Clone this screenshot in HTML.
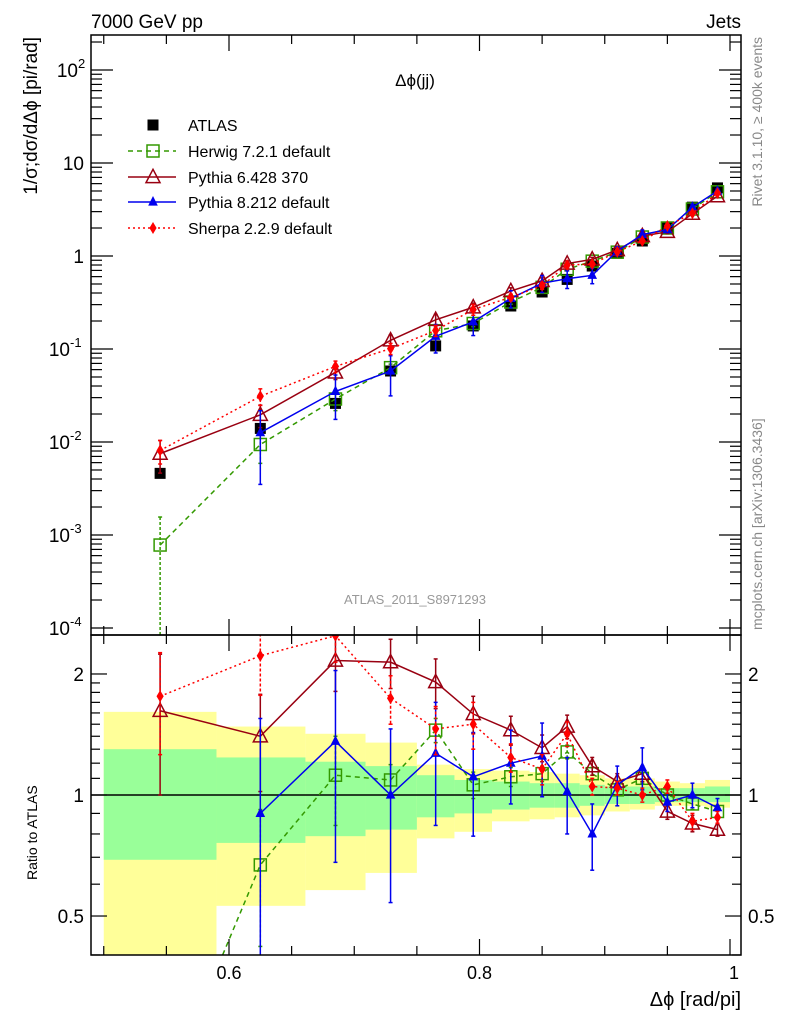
<!DOCTYPE html>
<html><head><meta charset="utf-8"><style>
html,body{margin:0;padding:0;background:#fff;width:786px;height:1024px;overflow:hidden;}
svg{display:block;font-family:"Liberation Sans",sans-serif;}
</style></head><body>
<svg id="c" width="786" height="1024" viewBox="0 0 786 1024" xmlns="http://www.w3.org/2000/svg">
<defs>
<clipPath id="cm"><rect x="91" y="35" width="650" height="600"/></clipPath>
<clipPath id="cr"><rect x="91" y="635" width="650" height="320"/></clipPath>
</defs>
<g id="ratioBands" clip-path="url(#cr)"></g>
<g id="mainG" clip-path="url(#cm)"></g>
<g id="ratioG" clip-path="url(#cr)"></g>
<g id="axes"></g>
<text x="91" y="28" font-size="19">7000 GeV pp</text>
<text x="741" y="28" font-size="19" text-anchor="end">Jets</text>
<text x="415" y="86" font-size="17" text-anchor="middle">Δϕ(jj)</text>
<text x="415" y="604" font-size="13" fill="#999" text-anchor="middle">ATLAS_2011_S8971293</text>
<text transform="translate(37,37) rotate(-90)" font-size="19" text-anchor="end">1/σ;dσ/dΔϕ [pi/rad]</text>
<text transform="translate(37,880) rotate(-90)" font-size="14">Ratio to ATLAS</text>
<text x="741" y="1006" font-size="20" text-anchor="end">Δϕ [rad/pi]</text>
<text transform="translate(762,37) rotate(-90)" font-size="14" fill="#888" text-anchor="end">Rivet 3.1.10, ≥ 400k events</text>
<text transform="translate(762,630) rotate(-90)" font-size="14" fill="#888">mcplots.cern.ch [arXiv:1306.3436]</text>
<g id="legend"></g>
</svg>
<script>
const xCenters=[0.545,0.625,0.685,0.729,0.765,0.795,0.825,0.85,0.87,0.89,0.91,0.93,0.95,0.97,0.99];
const binEdges=[0.5,0.59,0.661,0.709,0.75,0.78,0.81,0.84,0.86,0.88,0.90,0.92,0.94,0.96,0.98,1.0];
const atlas=[0.0046,0.014,0.026,0.058,0.108,0.177,0.29,0.41,0.56,0.78,1.07,1.45,2.0,3.35,5.4];
const atlasErr=[0.0004,0.0012,0.002,0.004,0.007,0.01,0.015,0.02,0.03,0.04,0.05,0.07,0.1,0.15,0.25];
const herwig=[0.00078,0.0094,0.029,0.063,0.157,0.188,0.32,0.46,0.72,0.88,1.10,1.60,2.0,3.2,4.9];
const pythia6=[0.0075,0.0196,0.056,0.124,0.206,0.281,0.42,0.54,0.83,0.92,1.16,1.64,1.82,2.85,4.4];
const pythia8=[null,0.0126,0.035,0.058,0.137,0.196,0.35,0.51,0.57,0.62,1.13,1.70,1.92,3.35,5.0];
const sherpa=[0.0081,0.031,0.065,0.101,0.158,0.266,0.36,0.48,0.80,0.82,1.11,1.45,2.1,2.88,4.75];
const herwigR=[0.17,0.67,1.12,1.09,1.45,1.06,1.11,1.13,1.28,1.13,1.03,1.10,1.0,0.95,0.91];
const pythia6R=[1.62,1.40,2.16,2.14,1.91,1.59,1.45,1.31,1.48,1.18,1.08,1.13,0.91,0.85,0.82];
const pythia8R=[null,0.90,1.36,1.0,1.27,1.11,1.20,1.25,1.02,0.80,1.06,1.17,0.96,1.0,0.93];
const sherpaR=[1.76,2.22,2.49,1.74,1.46,1.50,1.24,1.16,1.42,1.05,1.04,1.0,1.05,0.86,0.88];
const herwigErr=[0.17,0.25,0.28,0.1,0.1,0.08,0.06,0.05,0.05,0.04,0.03,0.03,0.03,0.03,0.03];
const pythia6Err=[0.62,0.38,0.35,0.3,0.27,0.17,0.12,0.1,0.1,0.06,0.05,0.05,0.04,0.04,0.03];
const pythia8Err=[0,0.65,0.68,0.46,0.43,0.32,0.25,0.26,0.22,0.15,0.12,0.14,0.05,0.07,0.05];
const sherpaErr=[0.5,0.45,0.35,0.24,0.2,0.2,0.1,0.1,0.1,0.05,0.04,0.04,0.04,0.04,0.03];
const greenHi=[1.30,1.24,1.21,1.18,1.12,1.09,1.08,1.07,1.07,1.06,1.05,1.05,1.04,1.04,1.05];
const greenLo=[0.69,0.76,0.79,0.82,0.88,0.90,0.92,0.93,0.93,0.94,0.95,0.95,0.96,0.96,0.96];
const yellowHi=[1.61,1.48,1.42,1.35,1.19,1.16,1.15,1.14,1.13,1.12,1.10,1.10,1.08,1.07,1.09];
const yellowLo=[0.30,0.53,0.58,0.64,0.78,0.81,0.86,0.87,0.88,0.89,0.91,0.92,0.94,0.94,0.93];
const mainTickExp=["-4","-3","-2","-1","","",  "2"];
const mainTickBase=["10","10","10","10","1","10","10"];
const ratioTicks=[0.5,1,2];
const xTicks=[0.6,0.8,1];

const NS="http://www.w3.org/2000/svg";
const X0=91,X1=741,MT=35,MB=635,RT=635,RB=955;
function xs(v){return 229+(v-0.6)*1252.5;}
function ym(v){return 256-Math.log10(v)*93;}
function yr(v){return 795-Math.log10(v)*402;}
function mk(tag,attrs,parent){const e=document.createElementNS(NS,tag);for(const k in attrs)e.setAttribute(k,attrs[k]);parent.appendChild(e);return e;}
const mainG=document.getElementById('mainG'),ratioG=document.getElementById('ratioG'),bandG=document.getElementById('ratioBands'),axes=document.getElementById('axes'),leg=document.getElementById('legend');

for(let i=0;i<xCenters.length;i++){
  const xa=xs(binEdges[i]),xb=xs(binEdges[i+1]);
  let r=mk('rect',{x:xa,y:yr(yellowHi[i]),width:xb-xa,height:yr(yellowLo[i])-yr(yellowHi[i]),fill:'#ffff99'},bandG);
  
  
}
for(let i=0;i<xCenters.length;i++){
  const xa=xs(binEdges[i]),xb=xs(binEdges[i+1]);
  let r=mk('rect',{x:xa,y:yr(greenHi[i]),width:xb-xa,height:yr(greenLo[i])-yr(greenHi[i]),fill:'#99ff99'},bandG);
  
  
}
let l1=mk('line',{x1:X0,x2:X1,y1:yr(1),y2:yr(1),stroke:'#000','stroke-width':1.5},ratioG);



function marker(g,type,x,y,col,s){
  let e;
  if(type==='sq') e=mk('rect',{x:x-s,y:y-s,width:2*s,height:2*s,fill:col},g);
  else if(type==='osq') e=mk('rect',{x:x-s,y:y-s,width:2*s,height:2*s,fill:'none',stroke:col,'stroke-width':1.5},g);
  else if(type==='otri') e=mk('path',{d:`M${x},${y-s*1.1}L${x+s},${y+s*0.8}L${x-s},${y+s*0.8}Z`,fill:'none',stroke:col,'stroke-width':1.5},g);
  else if(type==='tri') e=mk('path',{d:`M${x},${y-s}L${x+s*0.8},${y+s*0.6}L${x-s*0.8},${y+s*0.6}Z`,fill:col},g);
  else e=mk('path',{d:`M${x},${y-s}L${x+s*0.6},${y}L${x},${y+s}L${x-s*0.6},${y}Z`,fill:col},g);
  return e;
}
const series=[
 {name:'herwig',main:herwig,rat:herwigR,err:herwigErr,col:'#339900',dash:'5,4',m:'osq',s:6},
 {name:'pythia6',main:pythia6,rat:pythia6R,err:pythia6Err,col:'#990011',dash:'',m:'otri',s:7},
 {name:'pythia8',main:pythia8,rat:pythia8R,err:pythia8Err,col:'#0000ee',dash:'',m:'tri',s:6},
 {name:'sherpa',main:sherpa,rat:sherpaR,err:sherpaErr,col:'#ff0000',dash:'2,3',m:'dia',s:6}
];
function drawSeries(g,vals,yf,sr,isRatio){
  let pts=[];
  for(let i=0;i<vals.length;i++){ if(vals[i]==null) continue; pts.push([xs(xCenters[i]),yf(vals[i])]); }
  let p=mk('polyline',{points:pts.map(p=>p.join(',')).join(' '),fill:'none',stroke:sr.col,'stroke-width':1.5,'stroke-dasharray':sr.dash},g);
  
  
  for(let i=0;i<vals.length;i++){
    if(vals[i]==null) continue;
    const x=xs(xCenters[i]);
    const rel=sr.err[i]/sr.rat[i];
    const v=vals[i];
    const lo=Math.max(v*(1-rel),1e-9),hi=v*(1+rel);
    let e=mk('line',{x1:x,x2:x,y1:yf(hi),y2:yf(lo),stroke:sr.col,'stroke-width':1.5,'stroke-dasharray':sr.dash?'3,2':''},g);
    
    
    mk('line',{x1:x-2,x2:x+2,y1:yf(hi),y2:yf(hi),stroke:sr.col,'stroke-width':1.5},g);
    mk('line',{x1:x-2,x2:x+2,y1:yf(lo),y2:yf(lo),stroke:sr.col,'stroke-width':1.5},g);
    let m=marker(g,sr.m,x,yf(v),sr.col,sr.s);
    
    
  }
}
for(let i=0;i<atlas.length;i++){
  const x=xs(xCenters[i]);
  mk('line',{x1:x,x2:x,y1:ym(atlas[i]+atlasErr[i]),y2:ym(atlas[i]-atlasErr[i]),stroke:'#000','stroke-width':1.5},mainG);
  let m=marker(mainG,'sq',x,ym(atlas[i]),'#000',5.5);
  
  
}
for(const sr of series){ drawSeries(mainG,sr.main,ym,sr,false); }
for(const sr of series){ drawSeries(ratioG,sr.rat,yr,sr,true); }

for(const [t,b] of [[MT,MB],[RT,RB]]){
  let f=mk('rect',{x:X0,y:t,width:X1-X0,height:b-t,fill:'none',stroke:'#000','stroke-width':1.5},axes);
  
  
}
for(let k=0;k<=10;k++){
  const v=0.5+k*0.05; const x=xs(v); if(x<X0||x>X1) continue;
  const r=Math.round(v*100);
  const major=(r%20===0);
  const L=major?16:9;
  for(const [t,b] of [[MT,MB],[RT,RB]]){
    mk('line',{x1:x,x2:x,y1:b,y2:b-L,stroke:'#000','stroke-width':1.2},axes);
    mk('line',{x1:x,x2:x,y1:t,y2:t+L,stroke:'#000','stroke-width':1.2},axes);
  }
}
xTicks.forEach(v=>{
  let t=mk('text',{x:xs(v)+(v===1?4:0),y:979,'font-size':18,'text-anchor':'middle'},axes);
  t.textContent=String(v);
  
  
});
for(let d=-4;d<=2;d++){
  for(let m=1;m<=9;m++){
    const v=m*Math.pow(10,d); const y=ym(v); if(y<MT||y>MB) continue;
    const L=m===1?22:11;
    mk('line',{x1:X0,x2:X0+L,y1:y,y2:y,stroke:'#000','stroke-width':1.2},axes);
    mk('line',{x1:X1,x2:X1-L,y1:y,y2:y,stroke:'#000','stroke-width':1.2},axes);
  }
}
mainTickBase.forEach((b,i)=>{
  const exp=mainTickExp[i];
  const y=ym(Math.pow(10,i-4))+7;
  let t=mk('text',{x:exp?(86-exp.length*8):84,y:y,'font-size':19,'text-anchor':'end'},axes);
  t.textContent=b;
  
  
  if(exp){
    let s=mk('text',{x:exp?(86-exp.length*8):84,y:y-9,'font-size':13,'text-anchor':'start'},axes);
    s.textContent=exp;
    
    
  }
});
[0.4,0.5,0.6,0.7,0.8,0.9,1,1.1,1.2,1.3,1.4,1.5,1.6,1.7,1.8,1.9,2,2.5].forEach(v=>{
  const y=yr(v); if(y<RT||y>RB) return;
  const L=ratioTicks.includes(v)?16:9;
  mk('line',{x1:X0,x2:X0+L,y1:y,y2:y,stroke:'#000','stroke-width':1.2},axes);
  mk('line',{x1:X1,x2:X1-L,y1:y,y2:y,stroke:'#000','stroke-width':1.2},axes);
});
ratioTicks.forEach(v=>{
  for(const [x,a] of [[84,'end'],[748,'start']]){
    let t=mk('text',{x:x,y:yr(v)+7,'font-size':19,'text-anchor':a},axes);
    t.textContent=String(v);
    
    
  }
});
const legNames=['ATLAS','Herwig 7.2.1 default','Pythia 6.428 370','Pythia 8.212 default','Sherpa 2.2.9 default'];
const legY=[125,151,177,202,228];
legNames.forEach((n,i)=>{
  const y=legY[i];
  if(i>0){
    const sr=series[i-1];
    mk('line',{x1:128,x2:176,y1:y,y2:y,stroke:sr.col,'stroke-width':1.5,'stroke-dasharray':sr.dash},leg);
    marker(leg,sr.m,153,y,sr.col,sr.s);
  } else marker(leg,'sq',153,y,'#000',5.5);
  let t=mk('text',{x:188,y:y+6,'font-size':16},leg);
  t.textContent=n;
  
  
});
</script>
</body></html>
